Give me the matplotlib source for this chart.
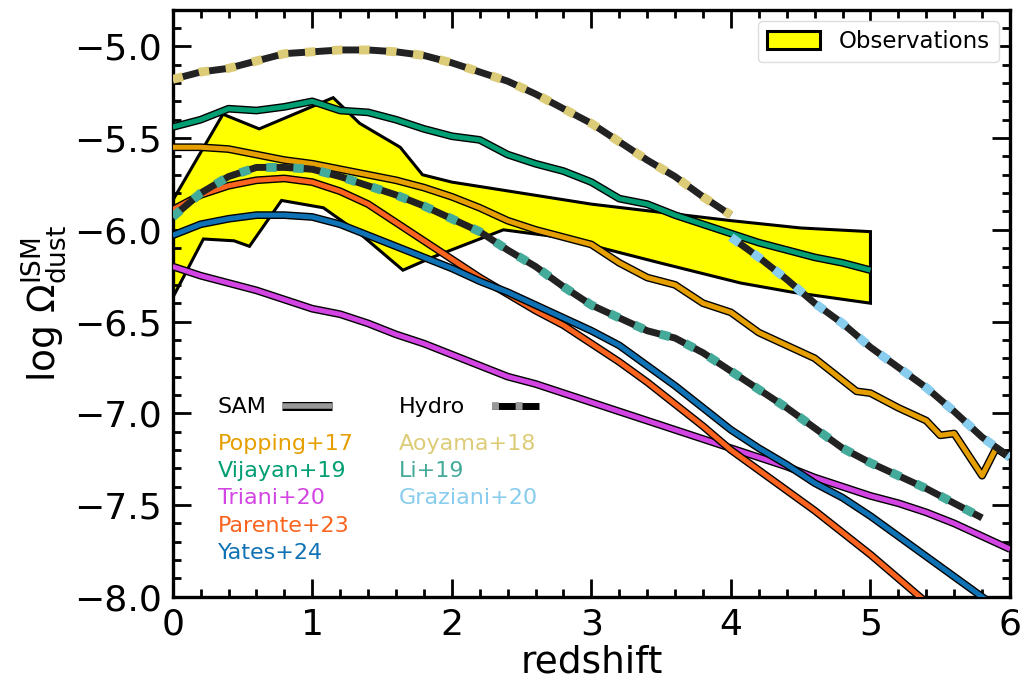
import matplotlib
matplotlib.use("Agg")
import matplotlib.pyplot as plt
import matplotlib.patheffects as pe
from matplotlib.patches import Patch

# ---- observational band (polygon: upper edge left->right, lower edge right->left)
obs_z_upper = [0.0, 0.36, 0.62, 1.15, 1.34, 1.63, 1.79, 2.0, 3.0, 4.0, 4.5, 5.0]
obs_upper = [-5.84, -5.37, -5.45, -5.28, -5.42, -5.55, -5.70, -5.74, -5.86, -5.95, -5.99, -6.01]
obs_z_lower = [5.0, 4.44, 4.07, 3.49, 2.77, 2.37, 1.86, 1.65, 1.34, 1.08, 0.78, 0.55, 0.44, 0.22, 0.0]
obs_lower = [-6.40, -6.34, -6.29, -6.18, -6.04, -6.00, -6.15, -6.22, -6.02, -5.88, -5.84, -6.09, -6.06, -6.05, -6.37]

# ---- SAM models
z_popping = [0.0, 0.2, 0.4, 0.6, 0.8, 1.0, 1.2, 1.4, 1.6, 1.8, 2.0, 2.2, 2.4, 2.6, 2.8,
             3.0, 3.2, 3.4, 3.6, 3.8, 4.0, 4.2, 4.4, 4.6, 4.8, 4.9, 5.0, 5.2, 5.4, 5.5,
             5.6, 5.8, 5.9, 6.0]
popping = [-5.55, -5.55, -5.56, -5.59, -5.62, -5.64, -5.67, -5.70, -5.73, -5.77, -5.82,
           -5.88, -5.95, -6.00, -6.04, -6.08, -6.18, -6.26, -6.30, -6.40, -6.45, -6.56,
           -6.63, -6.70, -6.82, -6.88, -6.89, -6.97, -7.04, -7.12, -7.11, -7.34, -7.19, -7.24]

z_vijayan = [0.0, 0.2, 0.4, 0.6, 0.8, 1.0, 1.2, 1.4, 1.6, 1.8, 2.0, 2.2, 2.4, 2.6, 2.8,
             3.0, 3.2, 3.4, 3.6, 3.8, 4.0, 4.2, 4.4, 4.6, 4.8, 5.0]
vijayan = [-5.44, -5.40, -5.34, -5.35, -5.33, -5.30, -5.35, -5.36, -5.40, -5.45, -5.49,
           -5.51, -5.59, -5.64, -5.68, -5.74, -5.83, -5.86, -5.92, -5.97, -6.02, -6.07,
           -6.11, -6.15, -6.18, -6.22]

z_triani = [0.0, 0.2, 0.4, 0.6, 0.8, 1.0, 1.2, 1.4, 1.6, 1.8, 2.0, 2.2, 2.4, 2.6, 2.8,
            3.0, 3.2, 3.4, 3.6, 3.8, 4.0, 4.2, 4.4, 4.6, 4.8, 5.0, 5.2, 5.4, 5.6, 5.8, 6.0]
triani = [-6.20, -6.25, -6.29, -6.33, -6.38, -6.43, -6.46, -6.51, -6.57, -6.62, -6.68,
          -6.74, -6.80, -6.84, -6.89, -6.94, -6.99, -7.04, -7.09, -7.14, -7.19, -7.24,
          -7.29, -7.35, -7.40, -7.45, -7.49, -7.54, -7.60, -7.67, -7.74]

z_parente = [0.0, 0.2, 0.4, 0.6, 0.8, 1.0, 1.2, 1.4, 1.6, 1.8, 2.0, 2.2, 2.4, 2.6, 2.8,
             3.0, 3.2, 3.4, 3.6, 3.8, 4.0, 4.2, 4.4, 4.6, 4.8, 5.0, 5.2, 5.4]
parente = [-5.89, -5.81, -5.76, -5.73, -5.72, -5.74, -5.79, -5.86, -5.96, -6.06, -6.16,
           -6.26, -6.35, -6.44, -6.52, -6.62, -6.72, -6.83, -6.95, -7.07, -7.20, -7.31,
           -7.42, -7.53, -7.65, -7.77, -7.90, -8.03]

z_yates = [0.0, 0.2, 0.4, 0.6, 0.8, 1.0, 1.2, 1.4, 1.6, 1.8, 2.0, 2.2, 2.4, 2.6, 2.8,
           3.0, 3.2, 3.4, 3.6, 3.8, 4.0, 4.2, 4.4, 4.6, 4.8, 5.0, 5.2, 5.4, 5.6, 5.8, 6.0]
yates = [-6.03, -5.97, -5.94, -5.92, -5.92, -5.93, -5.97, -6.03, -6.09, -6.15, -6.21,
         -6.28, -6.34, -6.41, -6.48, -6.55, -6.63, -6.74, -6.85, -6.97, -7.09, -7.19,
         -7.28, -7.38, -7.46, -7.56, -7.67, -7.78, -7.89, -8.00, -8.11]

# ---- hydrodynamical models
z_aoyama = [0.0, 0.2, 0.4, 0.6, 0.8, 1.0, 1.2, 1.4, 1.6, 1.8, 2.0, 2.2, 2.4, 2.6, 2.8,
            3.0, 3.2, 3.4, 3.6, 3.8, 4.0]
aoyama = [-5.18, -5.14, -5.12, -5.08, -5.04, -5.03, -5.02, -5.02, -5.03, -5.05, -5.09,
          -5.14, -5.19, -5.26, -5.34, -5.42, -5.52, -5.62, -5.71, -5.82, -5.92]

z_li = [0.0, 0.2, 0.4, 0.6, 0.8, 1.0, 1.2, 1.4, 1.6, 1.8, 2.0, 2.2, 2.4, 2.6, 2.8,
        3.0, 3.2, 3.4, 3.6, 3.8, 4.0, 4.2, 4.4, 4.6, 4.8, 5.0, 5.2, 5.4, 5.6, 5.8]
li = [-5.93, -5.80, -5.71, -5.66, -5.66, -5.67, -5.71, -5.76, -5.81, -5.87, -5.94,
      -6.01, -6.11, -6.20, -6.31, -6.41, -6.48, -6.55, -6.59, -6.67, -6.77, -6.87,
      -6.97, -7.08, -7.19, -7.27, -7.34, -7.41, -7.49, -7.57]

z_graziani = [4.0, 4.2, 4.4, 4.6, 4.8, 5.0, 5.2, 5.4, 5.6, 5.8, 6.0]
graziani = [-6.04, -6.15, -6.27, -6.40, -6.51, -6.64, -6.75, -6.86, -6.99, -7.13, -7.24]

sam_models = [
    ("Popping+17", z_popping, popping, "#E69F00"),
    ("Vijayan+19", z_vijayan, vijayan, "#009E73"),
    ("Triani+20", z_triani, triani, "#D245E2"),
    ("Parente+23", z_parente, parente, "#FA641E"),
    ("Yates+24", z_yates, yates, "#0F72B4"),
]
hydro_models = [
    ("Aoyama+18", z_aoyama, aoyama, "#DDCC77"),
    ("Li+19", z_li, li, "#44AA99"),
    ("Graziani+20", z_graziani, graziani, "#88CCEE"),
]

HYDRO_DASH = (7.5, 12.0)  # in points, not scaled by linewidth

plt.rcParams["mathtext.fontset"] = "dejavusans"
plt.rcParams["lines.scale_dashes"] = False

fig = plt.figure(figsize=(10.28, 6.86), dpi=100)
ax = fig.add_axes([0.168, 0.13, 0.8145, 0.856])

obs = ax.fill(obs_z_upper + obs_z_lower, obs_upper + obs_lower,
              facecolor="yellow", edgecolor="k", lw=2.2, zorder=1)

for name, z, y, c in sam_models:
    ax.plot(z, y, color=c, lw=3.6, solid_capstyle="butt", zorder=3,
            path_effects=[pe.Stroke(linewidth=5.6, foreground="k"), pe.Normal()])

for name, z, y, c in hydro_models:
    ax.plot(z, y, color="#222222", lw=5.0, solid_capstyle="butt", zorder=4)
    ax.plot(z, y, color=c, lw=6.4, dashes=HYDRO_DASH, dash_capstyle="butt", zorder=5)

ax.set_xlim(0, 6)
ax.set_ylim(-8, -4.8)
ax.set_xticks([0, 1, 2, 3, 4, 5, 6])
ax.set_yticks([-8.0, -7.5, -7.0, -6.5, -6.0, -5.5, -5.0])
ax.set_yticklabels(["\u22128.0", "\u22127.5", "\u22127.0", "\u22126.5",
                    "\u22126.0", "\u22125.5", "\u22125.0"])
ax.minorticks_on()
ax.xaxis.set_minor_locator(matplotlib.ticker.MultipleLocator(0.2))
ax.yaxis.set_minor_locator(matplotlib.ticker.MultipleLocator(0.1))
ax.tick_params(which="both", direction="in", top=True, right=True, labelsize=26, width=2)
ax.tick_params(which="major", length=13, pad=8)
ax.tick_params(which="minor", length=6)
for s in ax.spines.values():
    s.set_linewidth(2.4)

ax.set_xlabel("redshift", fontsize=27, labelpad=2)
ax.set_ylabel(r"log $\Omega_{\rm dust}^{\rm ISM}$", fontsize=27, labelpad=4)

leg = ax.legend([Patch(facecolor="yellow", edgecolor="k", lw=2.2)], ["Observations"],
                loc="upper right", fontsize=16.5, framealpha=1, edgecolor="#dddddd",
                borderaxespad=0.5, handlelength=2.3, handleheight=0.8)
leg.get_frame().set_linewidth(1.0)

# model key drawn as coloured text columns
col_x = [0.054, 0.270]
row_y = [0.2504, 0.2044, 0.1584, 0.1107, 0.0647]
ax.text(col_x[0], 0.3135, "SAM", fontsize=16, transform=ax.transAxes, va="baseline")
ax.text(col_x[1], 0.3135, "Hydro", fontsize=16, transform=ax.transAxes, va="baseline")
ax.plot([0.131, 0.190], [0.325, 0.325], transform=ax.transAxes, color="#999999",
        lw=4, solid_capstyle="butt",
        path_effects=[pe.Stroke(linewidth=6.5, foreground="k"), pe.Normal()])
ax.plot([0.381, 0.438], [0.325, 0.325], transform=ax.transAxes, color="k",
        lw=5.0, solid_capstyle="butt")
ax.plot([0.381, 0.438], [0.325, 0.325], transform=ax.transAxes, color="#999999",
        lw=5.6, dashes=(5.0, 12.0), dash_capstyle="butt")
for (name, _, _, c), yy in zip(sam_models, row_y):
    ax.text(col_x[0], yy, name, color=c, fontsize=16, transform=ax.transAxes, va="baseline")
for (name, _, _, c), yy in zip(hydro_models, row_y):
    ax.text(col_x[1], yy, name, color=c, fontsize=16, transform=ax.transAxes, va="baseline")

fig.savefig("out.png", dpi=100)
